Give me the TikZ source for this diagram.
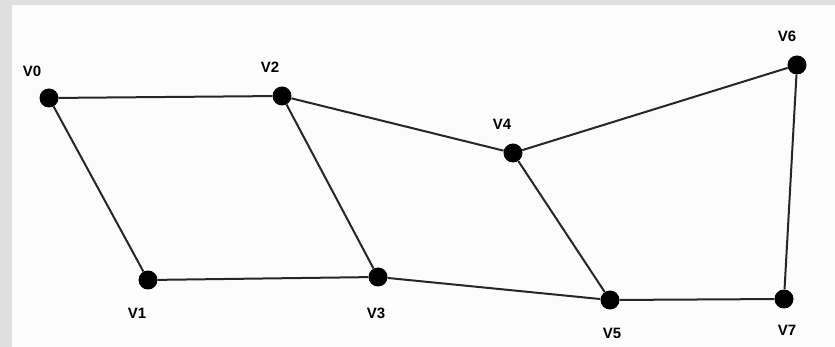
\documentclass[tikz,border=0pt]{standalone}
\usepackage{fontspec}
\setmainfont{Liberation Sans}
\begin{document}
\begin{tikzpicture}[x=1pt,y=-1pt,
  vtx/.style={circle,fill=black,inner sep=0pt,minimum size=19pt},
  lbl/.style={font=\fontsize{15}{17}\selectfont\bfseries,inner sep=0pt},
  edge/.style={line width=2pt,black!85}]
\useasboundingbox (0,0) rectangle (835,347);
\fill[gray!25] (0,0) rectangle (835,347);
\fill[white!98!gray] (12,5) rectangle (835,347);
\node[vtx] (v0) at (49,98) {};
\node[vtx] (v1) at (148,280) {};
\node[vtx] (v2) at (282,96) {};
\node[vtx] (v3) at (378,277) {};
\node[vtx] (v4) at (513,153) {};
\node[vtx] (v5) at (610,300) {};
\node[vtx] (v6) at (797,65) {};
\node[vtx] (v7) at (784,299) {};
\node[lbl] (l0) at (32,71) {V0};
\node[lbl] (l1) at (137,313) {V1};
\node[lbl] (l2) at (270,67) {V2};
\node[lbl] (l3) at (376,313) {V3};
\node[lbl] (l4) at (502,124) {V4};
\node[lbl] (l5) at (612,333) {V5};
\node[lbl] (l6) at (787,36) {V6};
\node[lbl] (l7) at (787,330) {V7};
\draw[edge] (v0) -- (v2);
\draw[edge] (v0) -- (v1);
\draw[edge] (v1) -- (v3);
\draw[edge] (v2) -- (v3);
\draw[edge] (v2) -- (v4);
\draw[edge] (v3) -- (v5);
\draw[edge] (v4) -- (v5);
\draw[edge] (v4) -- (v6);
\draw[edge] (v6) -- (v7);
\draw[edge] (v5) -- (v7);
\end{tikzpicture}
\end{document}
